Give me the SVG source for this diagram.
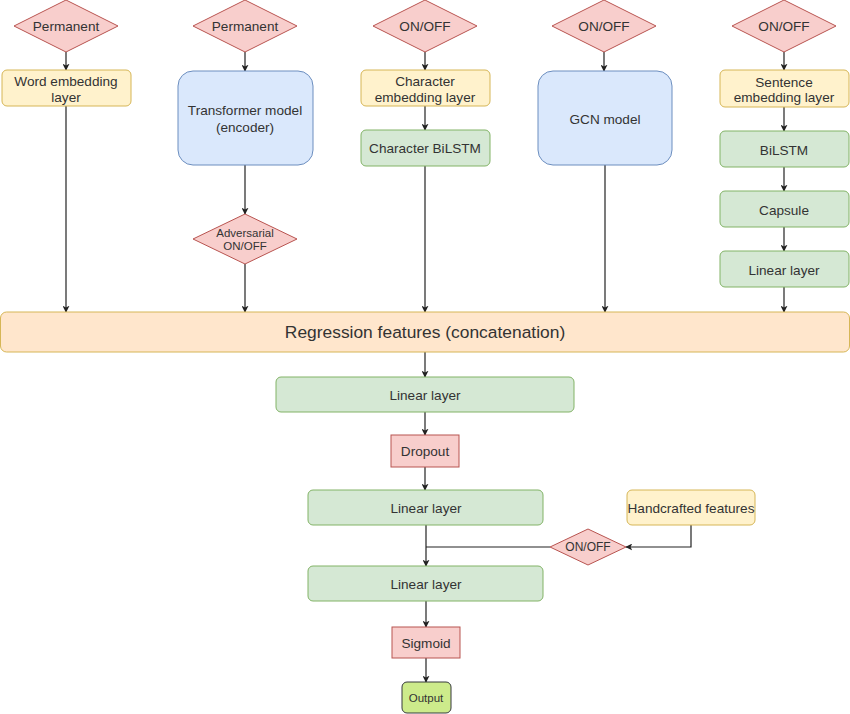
<svg xmlns="http://www.w3.org/2000/svg" width="850" height="714" viewBox="0 0 850 714">
<style>
text{font-family:"Liberation Sans",Arial,sans-serif;font-size:13.6px;fill:#333;text-anchor:middle;dominant-baseline:central}
.red{fill:#f8cecc;stroke:#b85450}
.yel{fill:#fff2cc;stroke:#d6b656}
.blu{fill:#dae8fc;stroke:#6c8ebf}
.grn{fill:#d5e8d4;stroke:#82b366}
.org{fill:#ffe6cc;stroke:#d6b656}
.out{fill:#cdeb8b;stroke:#36393d}
.c{stroke:#222;stroke-width:1.2;fill:none;marker-end:url(#a)}
.n{stroke:#222;stroke-width:1.2;fill:none}
</style>
<defs>
<marker id="a" viewBox="0 0 10 10" refX="9" refY="5" markerWidth="7" markerHeight="7" orient="auto" markerUnits="userSpaceOnUse"><path d="M0,0 L10,5 L0,10 L2.5,5 z" fill="#222"/></marker>
</defs>
<rect width="850" height="714" fill="#fff"/>
<g id="connectors">
<path class="c" d="M66,52 V70"/>
<path class="c" d="M245,52 V71"/>
<path class="c" d="M425,52 V70"/>
<path class="c" d="M604,52 V71"/>
<path class="c" d="M784,52 V70"/>
<path class="c" d="M425,106 V130"/>
<path class="c" d="M784,107 V131"/>
<path class="c" d="M784,167 V191"/>
<path class="c" d="M784,227 V251"/>
<path class="c" d="M66,106 V312"/>
<path class="c" d="M245,165 V214"/>
<path class="c" d="M245,264 V312"/>
<path class="c" d="M425,166 V312"/>
<path class="c" d="M605,165 V312"/>
<path class="c" d="M784,287 V312"/>
<path class="c" d="M425,352 V377"/>
<path class="c" d="M425,412 V435"/>
<path class="c" d="M425,467 V490"/>
<path class="c" d="M426,525 V566"/>
<path class="c" d="M691,525 V547 H626"/>
<path class="n" d="M550,547 H426"/>
<path class="c" d="M426,601 V627"/>
<path class="c" d="M426,658 V682"/>
</g>
<g id="d1"><polygon class="red" points="66,0 118,26 66,52 14,26"/><text x="66" y="26">Permanent</text></g>
<g id="d2"><polygon class="red" points="245,0 297,26 245,52 193,26"/><text x="245" y="26">Permanent</text></g>
<g id="d3"><polygon class="red" points="425,0 477,26 425,52 373,26"/><text x="425" y="26">ON/OFF</text></g>
<g id="d4"><polygon class="red" points="604,0 656,26 604,52 552,26"/><text x="604" y="26">ON/OFF</text></g>
<g id="d5"><polygon class="red" points="784,0 836,26 784,52 732,26"/><text x="784" y="26">ON/OFF</text></g>
<g id="word"><rect class="yel" x="2" y="70" width="129" height="36" rx="5"/><text x="66" y="81">Word embedding</text><text x="66" y="97">layer</text></g>
<g id="transformer"><rect class="blu" x="178" y="71" width="135" height="94" rx="15"/><text x="245" y="110">Transformer model</text><text x="245" y="127">(encoder)</text></g>
<g id="charemb"><rect class="yel" x="361" y="70" width="129" height="36" rx="5"/><text x="425" y="81">Character</text><text x="425" y="97">embedding layer</text></g>
<g id="charbilstm"><rect class="grn" x="361" y="130" width="129" height="36" rx="5"/><text x="425" y="148">Character BiLSTM</text></g>
<g id="gcn"><rect class="blu" x="538" y="71" width="134" height="94" rx="15"/><text x="605" y="119">GCN model</text></g>
<g id="sentemb"><rect class="yel" x="720" y="70" width="129" height="37" rx="5"/><text x="784" y="82">Sentence</text><text x="784" y="97">embedding layer</text></g>
<g id="bilstm"><rect class="grn" x="720" y="131" width="129" height="36" rx="5"/><text x="784" y="150">BiLSTM</text></g>
<g id="capsule"><rect class="grn" x="720" y="191" width="129" height="36" rx="5"/><text x="784" y="210">Capsule</text></g>
<g id="linear0"><rect class="grn" x="720" y="251" width="129" height="36" rx="5"/><text x="784" y="270">Linear layer</text></g>
<g id="adv"><polygon class="red" points="245,214 297,239 245,264 193,239"/><text x="245" y="233" style="font-size:11.5px">Adversarial</text><text x="245" y="246" style="font-size:11.5px">ON/OFF</text></g>
<g id="regression"><rect class="org" x="0.5" y="312" width="849" height="40" rx="6"/><text x="425" y="332" style="font-size:17.4px">Regression features (concatenation)</text></g>
<g id="linear1"><rect class="grn" x="276" y="377" width="298" height="35" rx="5"/><text x="425" y="395">Linear layer</text></g>
<g id="dropout"><rect class="red" x="391" y="435" width="68" height="32"/><text x="425" y="451">Dropout</text></g>
<g id="linear2"><rect class="grn" x="308" y="490" width="235" height="35" rx="5"/><text x="426" y="508">Linear layer</text></g>
<g id="handcrafted"><rect class="yel" x="627" y="490" width="128" height="35" rx="5"/><text x="691" y="508">Handcrafted features</text></g>
<g id="d6"><polygon class="red" points="588,529 626,547 588,565 550,547"/><text x="588" y="547" style="font-size:12px">ON/OFF</text></g>
<g id="linear3"><rect class="grn" x="308" y="566" width="235" height="35" rx="5"/><text x="426" y="584">Linear layer</text></g>
<g id="sigmoid"><rect class="red" x="392" y="627" width="68" height="31"/><text x="426" y="643">Sigmoid</text></g>
<g id="output"><rect class="out" x="402" y="682" width="49" height="31" rx="5"/><text x="426" y="698" style="font-size:11.5px">Output</text></g>
</svg>
